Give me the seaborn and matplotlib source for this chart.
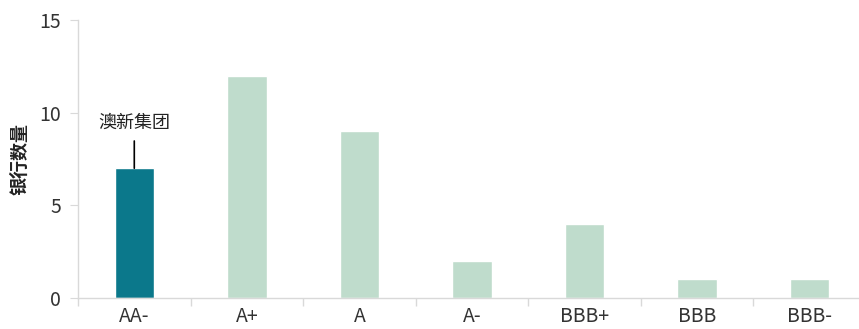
import pandas as pd
import matplotlib.pyplot as plt
import seaborn as sns

sns.set_style("white")
plt.rcParams['font.family'] = ['Noto Sans CJK SC', 'DejaVu Sans']

# data
ratings = ['AA-', 'A+', 'A', 'A-', 'BBB+', 'BBB', 'BBB-']
bank_counts = [7, 12, 9, 2, 4, 1, 1]
highlight = 'AA-'
highlight_label = '澳新集团'

df = pd.DataFrame({'rating': ratings, 'count': bank_counts})
palette = {r: ('#0b788b' if r == highlight else '#bfdccc') for r in ratings}

fig = plt.figure(figsize=(8.59, 3.29), dpi=100)
ax = fig.add_axes([78 / 859, 31 / 329, 788 / 859, 278 / 329])

sns.barplot(data=df, x='rating', y='count', hue='rating', palette=palette,
            width=0.35, legend=False, ax=ax, saturation=1)

ax.set_xlim(-0.5, len(ratings) - 0.5)
ax.set_ylim(0, 15)
ax.set_yticks([0, 5, 10, 15])
ax.set_xlabel('')
ax.set_ylabel('银行数量', fontsize=13, fontweight='bold', color='#222222', labelpad=7)

# ticks between categories
ax.set_xticks([i - 0.5 for i in range(len(ratings) + 1)], minor=True)
ax.tick_params(axis='x', which='major', bottom=False, length=0, labelsize=14,
               labelcolor='#333333', pad=6)
ax.tick_params(axis='x', which='minor', bottom=True, length=6, color='#d9d9d9', width=1)
ax.tick_params(axis='y', which='major', left=True, length=6, color='#d9d9d9', labelsize=14,
               labelcolor='#333333', pad=6)
for lbl in ax.get_xticklabels() + ax.get_yticklabels():
    lbl.set_fontweight('light')

for s in ['top', 'right']:
    ax.spines[s].set_visible(False)
for s in ['left', 'bottom']:
    ax.spines[s].set_color('#d9d9d9')
    ax.spines[s].set_linewidth(1)

# annotation for highlighted bar
hi = ratings.index(highlight)
ax.annotate(highlight_label, xy=(hi, bank_counts[hi]), xytext=(0, 26),
            textcoords='offset points', ha='center', va='bottom', fontsize=13,
            color='#222222',
            arrowprops=dict(arrowstyle='-', color='black', lw=1.2, shrinkA=4, shrinkB=0))

plt.savefig('out.png', dpi=100)
